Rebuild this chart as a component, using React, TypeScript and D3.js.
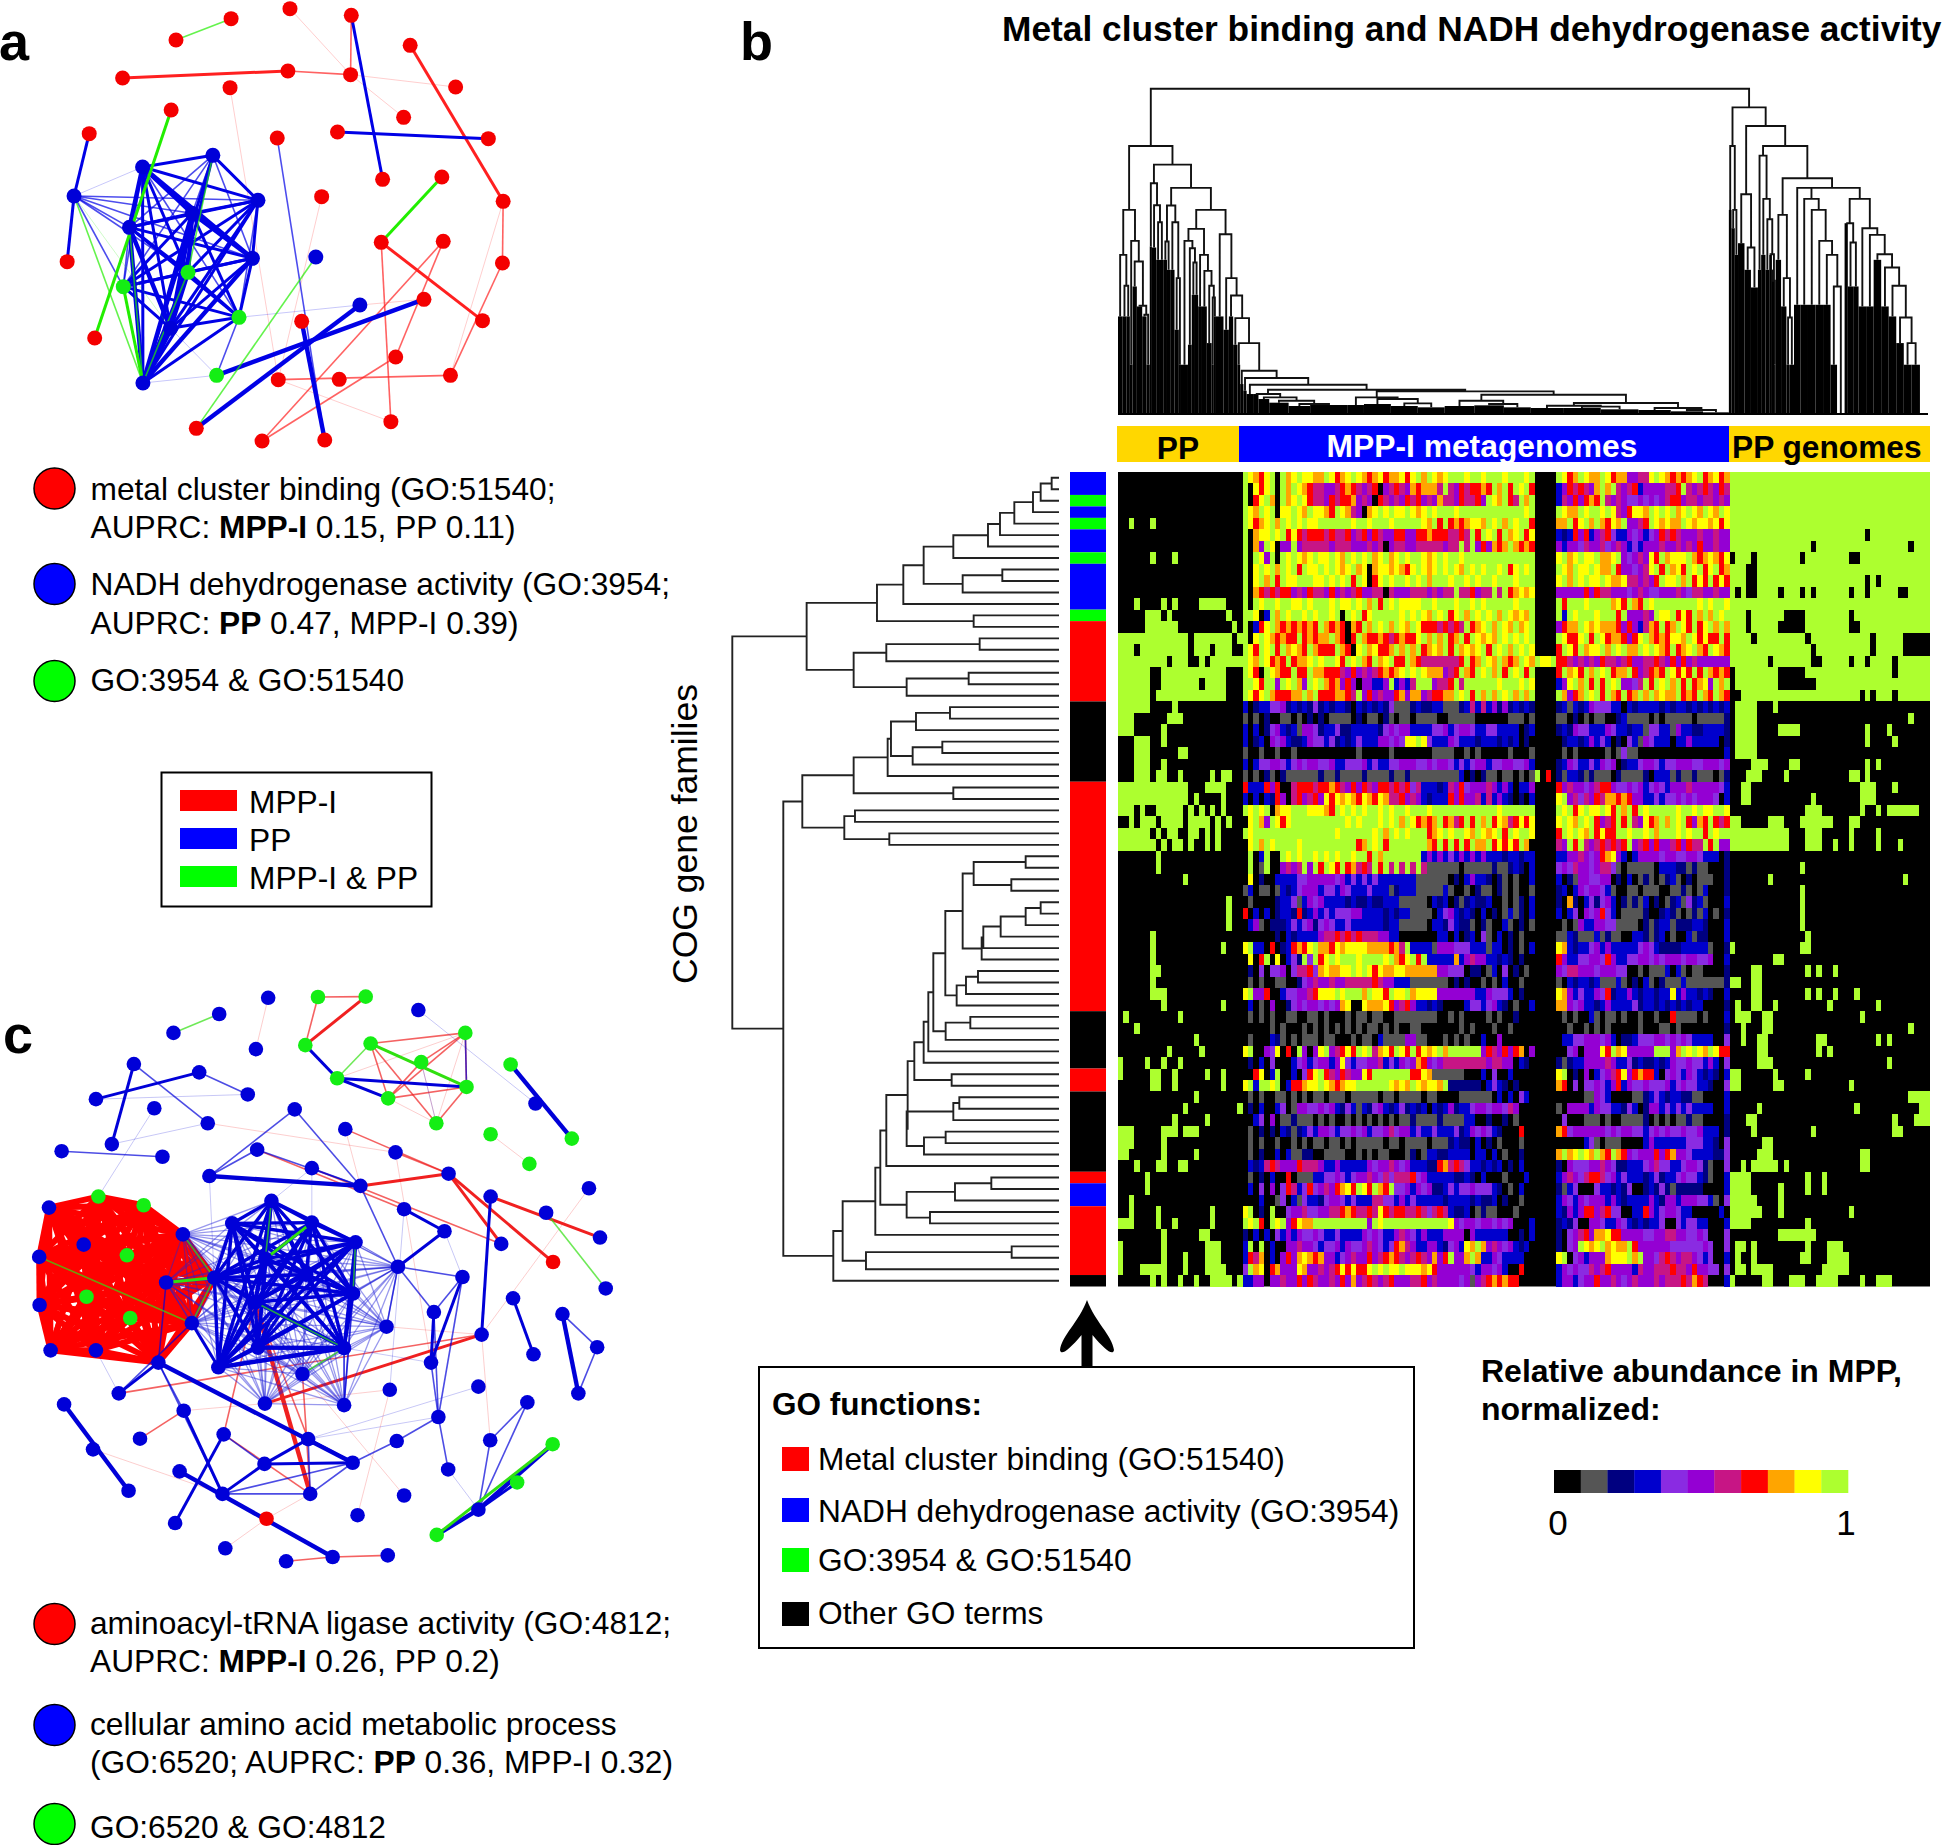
import React from "react";
import * as d3 from "d3";

const width = 1944;
const height = 1845;
const font = "'Liberation Sans', Arial, sans-serif";

// abundance levels, 0 = black ... a = top of the scale
const levelKeys = "0123456789a".split("");
const levelColors = ["#000000", "#555555", "#000080", "#0000cd", "#8a2be2", "#9400d3", "#c71585", "#ff0000", "#ffa500", "#ffff00", "#adff2f"];
const goColors: any = { R: "#ff0000", B: "#0000ff", G: "#00ff00", K: "#000000" };

// GO strip beside the heatmap, [colour, rows]
const goStrip: any[] = [["B", 2], ["G", 1], ["B", 1], ["G", 1], ["B", 2], ["G", 1], ["B", 4], ["G", 1], ["R", 7], ["K", 7], ["R", 20], ["K", 5], ["R", 2], ["K", 7], ["R", 1], ["B", 2], ["R", 6], ["K", 1]];

// heatmap, one string per COG row, split by sample group
const ppLeft = [
  "00000000000000000000000", "00000000000000000000000", "00000000000000000000000", "00000000000000000000000",
  "00a000a0000000000000000", "00000000000000000000000", "00000000000000000000000", "000000a000a000000000000",
  "00000000000000000000000", "00000000000000000000000", "00000000000000000000000", "000a0000a0a0000aaaaa000",
  "00000aaa0a0000000000a00", "00000aaaaaa0000000000a0", "aaaaaaaaaaaaa0aaaaaaa0a", "aaa0aaaaaaaaa0aaa0aaa00",
  "aaaaaaaaa0aaa00a0aaaaaa", "aaaaaa00aaaaaaaaaaaa000", "aaaaaa00aaaaaaa0aaaa000", "aaaaaa0aaaaaaaaaaaaa000",
  "aaaaaa0000a000000000000", "aaa000000aaa00000000000", "aaa00000a00000000000000", "000aaa00a00000000000000",
  "000aaa00000aa0000000000", "000aaa00a00000000000000", "000aaa0aa00a00000a0aa00", "aaaaaaaaaaaaa000aaaa000",
  "aaaaaaaaaaaaa0a0000a000", "aaa0a00aaaaa0a0a0a0a000", "00a0aaa0aaaa0aaaa0a0a00", "aaaaaa0a0aa00aa0a0a0000",
  "aaaaaaa0a0aa0a00a0a0000", "0000000a000000000000000", "0000000a000000000000000", "000000000000a0000000000",
  "00000000000000000000000", "00000000000000000000a00", "00000000000000000000a00", "00000000000000000000a00",
  "000000a0000000000000000", "000000a000000000000a000", "000000a0000000000000000", "000000aa000000000000000",
  "000000a0000000000000000", "000000aaa00000000000000", "00000000a0000000000a000", "0a000000000a00000000000",
  "000a0000000000000000000", "00000000000000a00000000", "000000000a00000a0000000", "a0000a00a00a00000000000",
  "a00000aa00a00000a00a000", "000000aa00a00000000a000", "00000000000000a00000000", "000000000000a000000000a",
  "0000000000a00000a000000", "aaa00000aaa0aaa00000000", "aaa00000a00000000000000", "aa000000a00000a00000000",
  "000a000aa00aa0000000000", "00000a00000000000000000", "00000a00000000000000000", "00a00000000000000000000",
  "00a0000a000000000a00000", "aaa0000a00a000000a00000", "00000000a000000aa000000", "a0000000a0000000aaa0000",
  "a0000000a000a000aaa0000", "a000aaaaa000a000aaaa000", "000000a0a00a00a00aaaa0a"
];

const mppLeft = [
  "a9879a0a89a9988a9789a98789788979a8a989aaa9aa9aaa9aaa9a", "a0979a0a8a987665567876567056765878886a65767787a8a7a9a7",
  "a079a80a89a9766576778565076565767565866576675a98a76a8a", "a98a9a099a98a9987a9865089a9a99a989a9aaa9aaaaaaaaaaaa9a",
  "a9789a8a9a9a99aaaaaa9aa9aaa9aaaaa98a7a7878998a9a8a9aa7", "a0899a9a7976777676675675765577557787776676a7a9a7a89a79",
  "a085a9055a566666566655565605665566666566a6a575878a8787", "a0a95a0a9a989a99a98a9a9a89a89a9aa989a9aa9aaaaaaaaaaaaa",
  "a09a9a8a9a7a99a9a989a89089989879a989a9a98a9a9aa9a79a9a", "a09a8a7a99aaa99a9a9a7a9079a9aa9a9a8aaa9aa9a9aa9aaa9aaa",
  "a08767677565766575656755660655566656566a667566a6a78989", "a0a9aa9aa99a9aaa9a99a9a8a7a9a9999aa9aaa9aa9a9aaaaa9aaa",
  "aa903a8a9aa9a9aa9a0a9a79aaaaa9a9a98a9a79a8a9a9a8a9898a", "a0379a87878787a8787087a8a9a8a98a977767676a789a8a98a89a",
  "a09a987877a78788a8707a87787678779a8a8a78a7a9898a9a9a9a", "a97a9a7a8987a8777a8709a89778a8a8a7898a7a8989a7a9a8a9a9",
  "a98a9787a7889a9aa97a9a87a89a77a8766666667a78a98a878a98", "a970a9877a77a88777657565678789a9a9888567a87a9a8a7a9a7a",
  "aa97aa5a9a85a9a878575055335a3536aaa5667a6aaaaaa9aaa9a9", "a979a877788a8a7778876a57565578588567788a9a7a8a8a9a8a8a",
  "302334452323242323320323232411123223311123636352523232", "101020011010202011110201102101101111001111100000011101",
  "303024532315542334223333324545533334453455433443333023", "302305453223544342323433355454 9a94333543332333232302".replace(" ", "9"),
  "100100100100000000000100000100000001111001010000010001", "303445543454554453344453433445554454554343455344554453",
  "101021021111112112111121111211211111111130202110110101", "733375700677767787657576577676746333236574555653530335",
  "303032750675675979898798798667565323337575563635320203", "a9a9a0899aaa99987a9a9a9aa9a9aa9aaa9aaaaaaaaaaaa9aaaaaa",
  "09a85a979aaaaaaaaaa9a9aaa9a9a8a97878a7867a7a8a79867979", "a9aaaaaaaaaaaaaaa9aaaaaa9a8a9a9aaa789a9aa98a989a7a9aa9",
  "09a8a9aaaa9aaaaaaaaaa78a9a7aaaaaaa87a7a7a7a88a79797a80", "0a03a00a9a9aa9a9a9aa9aa7a8aaaaaaa353534353535333233233",
  "0a01a005656a5a7a97a78676a7a6a6a6a611111101111121123203", "090200333344555554534343433333331111110203533202101003",
  "130110132345553443543334333123331111131001021102101001",
  "010000233413545333323223223331111103230212322300101203", "703030233272353434445533332323311110345323203020131203",
  "035102223434524543343333332331111103324322102100310201", "000000203233335667676766655330000000330302304103020100",
  "9a33070237 79a88798999988887 6a33331555444333133020103".replace(/ /g, "8"), "0907a090342a4a79a9aaa9aaaa9a879a7a3333383565533232020",
  "020404450466748988 9a9a979889988888855444022013040201".replace(" ", "9"), "010100110024565565566666765533311111110202001010300100",
  "9a557003445567999a9aaa8a997a99a8999955555553354443020", "030105002454554545890098889756753323200003443453201003",
  "010101001100110100010110110011111111001010000101002000", "000001010001010101010101101010011000000010100010010000",
  "010003210101110110001011031111551100010101003005000000", "9a00549070a5059a56797a9a6897a97a7 89a8aaaaaa5765757805".replace(" ", "9"),
  "020304000345345535943445563435458754566666666566550320", "00790 3a003 0479a765765597aaaaaaa7798111111000304003000".replace(/ /g, ""),
  "9a3aa9a0377899a987899aaaaaa9898a98998a222222034320200", "010100110101011011101111101101111011000011111103030430".slice(0, 54),
  "020300340155445453243132453234232303235233455455465000", "003405011211101010010101010101121111211113300200201000",
  "010202032123435543445453445645534334333423545432000700", "010100100101011011010111110110111101112322030201000100",
  "010200303112200111100101011000120133223333033030100200", "032367655576665335333335455654533322786764332323020300",
  "010203007011133445434556546466674533333223203000100030", "030405047634745657897a97a87a44535452234344544432010300",
  "000300140314332455434333664435343333323333232230200100", "9a020a00455644556678766769767766764676322301211000100",
  "a9a70a9a57988aaaaaaaaaa5a9aaaaaaaaaaaa954554554545000300", "203030435354454334333354543356543533355550533333300203",
  "3a0a030055655434453544565434786533553245 98a8565453230".replace(" ", "3"), "376803057589878553456557567876567658 7a558a8335433330".replace(" ", "5"),
  "4a8907855598556567979779a9a99a99989755555543554530070", "335505565575765565758567656755566756555545156787877000"
];

const mppGap = ["a99a", "a070"];
const mppGapRows = [16, 26];

const mppRight = [
  "a978a988a978855669a9878789a78978", "35767658a8a656735555667a65676576", "36575787a65654454545677566566565",
  "a988a9aa9a96579 8a9a9a89a98a98a9".replace(" ", "9"), "88a79a8a8798a5567a98988a98998979", "32375735674335453457676555655655",
  "53554655645653435556556565755655", "9a89a99a889a5456597a8999a8789879", "a98a99a988a7554569a7a897a9a79a78",
  "9a8a9a99a9889665657a99a8a797a797", "55555757665554565445556546655655", "a7aaa9aaaa897a87a9aaaaaaaa9a9aa9",
  "a3a9aaa9aaa7a55565a99a797a8a8a9a", "5788a98988875753687a78a97a79a8a8", "a9779a7a97887579a8787998a97977a7",
  "7a97a899a8a9a88a9a987a789a87a987", "77656565766567556676575756555555", "7a897a8a9a788a756787a9797a7a8787",
  "359a8a7a7a9a5546a7a9a8a7a7895a8a", "a8578a9a7a87a78a8a8988a787a87a87", "23132354443303233332323323232323",
  "11020101100231111010111110111112", "23254433354332331443315332233332", "02332353430204315433303353333302",
  "01010000010141100000000000000003", "23543343545023345543445554455545", "21332121110211112033312112111012",
  "75655456775445453454355565555543", "9a564657688787553343445454555403", "a9a79a99a97a8a7a9aaaaa9aa9a99aa9",
  "9a98a9a7567a7a65978a8a9a7587a767", "7a9a98a7977aa9aa9a8aaa9a9aa7a9aa", "65a7a65676767a5675755675766a7a55",
  "33556545789530355554554455433302", "45465545664101111103332212110002", "30215544550203012101231020111002",
  "23035455431001101110011210130002", "20820342453021213020123142310003", "30340545743011112002321012130102",
  "01015335544111102123312223320003", "11321113121100332123010031220003", "98323345353333345432222333331002",
  "75334455475334455454555455445003", "54665554555440010111303101100002", "10323323111310203102111311111112",
  "98534335472335323323393533232003", "88545332353333423323232323300002", "01010031011010010010071111010003",
  "00100101010000010001101000000002", "03344555453022344455454543333004", "0045055597a8955555aaa58a9a98a977",
  "21233555565334232232354454435304", "9a020503456795787730454354323203", "87040445435735445444534544332004",
  "00000115430000112343233221100003", "10555535443324302553434343333003", "04000111010011112010101121100002",
  "87455555545455443454544544533302", "00000341011100003533333344433204", "8a89a98a87a875455575785543333224",
  "20544455654223334564433455421004", "35654677645343332342334544321003", "21340004332324002324212222200003",
  "35435455535323333532553555443104", "32535775674400337534554330000 3".replace(" ", "0"), "23240055433543232334004344330003",
  "20456758897755554455665544540004", "2045a989a8988a755555544444454004", "9a045355589 9a8a5546765665434003".replace(" ", "9"),
  "35454465675555365566676657554404", "35534557556545655565666768760003"
];

const ppRight = [
  "aaaaaaaaaaaaaaaaaaaaaaaaaaaaaaaaaaaaa", "aaaaaaaaaaaaaaaaaaaaaaaaaaaaaaaaaaaaa", "aaaaaaaaaaaaaaaaaaaaaaaaaaaaaaaaaaaaa",
  "aaaaaaaaaaaaaaaaaaaaaaaaaaaaaaaaaaaaa", "aaaaaaaaaaaaaaaaaaaaaaaaaaaaaaaaaaaaa", "aaaaaaaaaaaaaaaaaaaaaaaaa0aaaaaaaaaaa",
  "aaaaaaaaaaaaaaa0aaaaaaaaaaaaaaaaa0aaa", "0aaa0aaaaaaaa0aaaaaaaa00aaaaaaaaaaaaa", "aaa00aaaaaaaaaaaaaaaaaaaaaaaaaaaaaaaa",
  "aaa00aaaaaaaaaaaaaaaaaaaa0a0aaaaaaaaa", "a0a00aaaa0aaa0a0aaaaaa0aa0aaaaa00aaaa", "aaaaaaaaaaaaaaaaaaaaaaaaaaaaaaaaaaaaa",
  "aaa0aaaaaa0000aaaaaaaa0aaaaaaaaaaaaaa", "aaa0aaaaa00000aaaaaaaa00aaaaaaaaaaaaa", "aaaa0aaaaaaaaa0aaaaaaaaaaa0aaaaa00000",
  "aaaaaaaaaaaaaaa0aaaaaaaaaa0aaaaa00000", "aaaaaaa0aaaaaaa00aaaaa0aa0aaaa0aaaaaa", "0aaaaaaaa00000aaaaaaaaaaaaaaaa0aaaaaa",
  "0aaaaaaaa0000000aaaaaaaaaaaaaaaaaaaaa", "00aaaaaaaaaaaaaaaaaaaaaa0a0aaa0aaaaaa", "0aaaa000a0000000000000000000000000000",
  "0aaaa0000000000000000000000000000a000", "0aaaa0000aaaa000000000000a000a0000000", "0aaaa00000000000000000000a0000a000000",
  "0aaaa00000000000000000000000000000000", "0000aaa0000aa000000000000a0a000000000", "000aaa0000a00000000000aa0a00000000000",
  "00aa00000000000000000000aaa000a000000", "00aa00000000000a00000000aaa0000000000", "00000000000000aaa0000000a00a0aaaaaa00",
  "aa00000aaa000aaaaaa000aa0000000000000", "aaaaaaaaaaa000aaa00000a0000a000000000", "aaaaaaaaaaa000aaa00a00a0000a000a00000",
  "0000000000000000000000000000000000000", "0000000000000a00000000000000000000000", "0000000a000000000000000000000000a0000",
  "0000000000000a00000000000000000000000", "0000000000000a00000000000000000000000", "0000000000000a00000000000000000000000",
  "0000000000000a00000000000000000000000", "00000000000000a0000000000000000000000", "a000000000000aa0000000000000000000000",
  "00000000aa000000000000000000000000000", "0000aa00000000a0a00a00000000000000000", "aa00aa0000000000000000000000000000000",
  "0000aa00000000a0a00a000a0000000000000", "0a00aa00a000000000a00000000a000000000", "0aaa00aa0000000000000000a000000000000",
  "00a000aa0000000000000000000000000a000", "00a00aa000000000aa000000000a0a0000000", "00000aa000000000a0a000000000000000000",
  "00000aaa000000000000000000000a0000000", "aa000000a00000a0000000000000000000000", "aa000000aa000000000000a00000000000000",
  "000000000000000000000000000000000aaaa", "00000a00000000000000000a00000000000aa", "000aa0000000000000000000000000a000aaa",
  "0000a0000000000a00000000000000aa00000", "000000aa00000000000000000000000000000", "00000aaa0000000000000000aa00000000000",
  "00a0aaaaa0a0000000000000aa00000000000", "aaaa0000000000a00a0000000000000000000", "aaaa00000a0000a00a0000000000000000000",
  "aaaaa0000a000000000000000000000000000", "aaaaaa000a000000000000a00000000000000", "aaaa0000000000a0000000000000000000000",
  "000000000aaaaaaa000000000000000000000", "0aa0a000000000a000aaa0000000000000000", "0a00a00000000aa000aaaa000000000000000",
  "0aa0aaaa000000000aaaaa000000000000000", "a00000aa000aaa00aaaa0000a00aaa0000000"
];

// top dendrogram: [height, left, right] is a merge, [w, h] a solid block of samples
const midLow: any = [73,
  [60, [10, 60], [50, [20, 45], [40, [36, 34], [30, [40, 24], [70, 27]]]]],
  [68,
    [50, [30, 27], [45, [50, 30], [32, [50, 24], [50, 20]]]],
    [58,
      [40, [55, 24], [30, [55, 26], [50, 20]]],
      [33, [25, [60, 18], [22, [70, 18], [70, 14]]], [18, [60, 12], [12, [60, 8], [48, 5]]]]
    ]
  ]
];
const midChain: any = [288, [8, 208], [213, [5, 148], [130, [6, 90], [108, [6, 70], [88, [12, 60], midLow]]]]];
const topLeft: any = [805,
  [613,
    [478, [8, 293], [385, [8, 293], [6, 293]]],
    [520, [5, 148], [458, [8, 383], [325, [10, 323], [298, [8, 293], [6, 148]]]]]
  ],
  [749,
    [693, [4, 503], [627, [8, 500], [576, [7, 463], [7, 463]]]],
    [679,
      [626, [518, [6, 463], [6, 433]], [576, [8, 433], [408, [8, 253], [4, 148]]]],
      [613,
        [556,
          [520, [13, 148], [498, [7, 208], [455, [6, 358], [6, 358]]]],
          [478, [7, 323], [430, [9, 323], [385, [9, 213], [350, [4, 148], [4, 293]]]]]
        ],
        [540, [14, 293], [408, [10, 253], [356, [8, 293], midChain]]]
      ]
    ]
  ]
];
const topRight: any = [921,
  [805, [5, 613], [613, [6, 558], [6, 478]]],
  [865,
    [660, [12, 513], [500, [12, 433], [13, 380]]],
    [805,
      [776, [6, 433], [646, [8, 478], [585, [7, 433], [480, [5, 478], [400, [4, 433], [3, 148]]]]]],
      [708,
        [598, [10, 463], [408, [10, 323], [290, [6, 148], [8, 148]]]],
        [679,
          [679, [12, 328], [646, [14, 328], [613, [14, 328], [520, [14, 328], [478, [14, 328], [383, [12, 148], [14, 0]]]]]]],
          [646,
            [573, [6, 573], [515, [10, 383], [10, 383]]],
            [558, [14, 323], [538, [14, 323], [480, [14, 463], [440, [14, 323], [385, [14, 293], [290, [14, 213], [213, [14, 148], [16, 148]]]]]]]]
          ]
        ]
      ]
    ]
  ]
];
const topTree: any = [977, topLeft, topRight];

// left dendrogram: [height, upper, lower], 0 is a COG row
const cogTree: any = [980,
  [757,
    [546,
      [467,
        [406,
          [317, [213, [177, [134, [78, [55, [22, 0, 0], 0], 0], 0], 0], 0], 0],
          [289, [170, 0, 0], 0]
        ],
        0
      ],
      [256, 0, 0]
    ],
    [616, [518, [238, 0, 0], 0], [457, [271, 0, 0], 0]]
  ],
  [827,
    [770,
      [616, [514, [504, [429, [327, 0, 0], 0], [439, [350, 0, 0], 0]], 0], [317, 0, 0]],
      [644, [612, 0, 0], [509, 0, 0]]
    ],
    [677,
      [649,
        [551,
          [536,
            [518,
              [454,
                [434,
                  [406,
                    [392,
                      [377,
                        [341,
                          [289,
                            [256, [100, 0, 0], [143, 0, 0]],
                            [232, [227, [175, [100, [55, 0, 0], 0], 0], 0], 0]
                          ],
                          [307, [279, [243, 0, 0], 0], 0]
                        ],
                        [340, [266, 0, 0], 0]
                      ],
                      0
                    ],
                    0
                  ],
                  [322, 0, 0]
                ],
                [457, [317, [299, 0, 0], 0], [405, [340, 0, 0], 0]]
              ],
              0
            ],
            [457, [312, [203, 0, 0], 0], [387, 0, 0]]
          ],
          0
        ],
        [579, [142, 0, 0], 0]
      ],
      0
    ]
  ]
];

// network a: layout position, module, then edges [from, to, weight]
const aNodeX = [511, 671, 842, 1020, 1191, 356, 836, 1018, 1323, 668, 1172, 497, 259, 805, 980, 1418, 1111, 1283, 618, 414, 215, 749, 1461, 934, 558, 376, 1107, 1287, 195, 733, 917, 1459, 546, 358, 1045, 1231, 694, 876, 1401, 495, 275, 1149, 629, 808, 985, 1308, 415, 1135, 570, 761, 943];
const aNodeY = [120, 56, 26, 46, 136, 234, 213, 224, 261, 263, 352, 330, 401, 414, 396, 416, 538, 531, 466, 501, 588, 601, 604, 590, 640, 682, 727, 724, 785, 775, 771, 789, 817, 860, 915, 898, 952, 964, 962, 985, 1014, 1071, 1126, 1139, 1138, 1126, 1149, 1265, 1285, 1323, 1320];
const aNodeKind = "RRRRRRRRRRRRRRRRRRBBBBRRBBRRRBBRGGBRGRRBRRGRRRBRRRR";
const aRed = [[2, 7, 0], [3, 7, 1], [5, 6, 2], [6, 7, 1], [7, 8, 0], [7, 10, 0], [4, 22, 2], [9, 43, 0], [23, 43, 0], [22, 31, 1], [22, 45, 0], [31, 45, 1], [26, 38, 2], [26, 47, 1], [27, 49, 1], [27, 41, 1], [41, 49, 1], [43, 45, 1], [43, 47, 0], [34, 35, 0]];
const aBlue = [[3, 16, 2], [14, 15, 2], [12, 20, 2], [20, 28, 2], [13, 50, 1], [37, 50, 3], [34, 48, 3], [42, 35, 3], [36, 34, 0], [46, 42, 0], [36, 42, 1], [39, 42, 0], [20, 19, 0],
  [18, 19, 2], [18, 21, 2], [18, 24, 1], [18, 25, 1], [18, 29, 1], [18, 39, 2], [18, 46, 2], [18, 33, 1], [19, 21, 2], [19, 24, 3], [19, 25, 3], [19, 29, 3], [19, 32, 2], [19, 33, 1], [19, 39, 2], [19, 36, 1], [19, 46, 2],
  [20, 21, 1], [20, 24, 1], [20, 25, 1], [20, 29, 1], [20, 33, 1], [20, 32, 1], [21, 24, 2], [21, 25, 2], [21, 29, 2], [21, 32, 2], [21, 33, 2], [21, 36, 1], [21, 39, 2], [21, 46, 2],
  [24, 25, 2], [24, 29, 3], [24, 32, 3], [24, 33, 2], [24, 36, 2], [24, 39, 3], [24, 46, 3], [25, 29, 2], [25, 32, 2], [25, 33, 1], [25, 36, 2], [25, 39, 3], [25, 46, 3],
  [29, 32, 2], [29, 33, 2], [29, 36, 2], [29, 39, 2], [29, 46, 3], [32, 33, 2], [32, 36, 2], [32, 39, 3], [32, 46, 3], [33, 36, 2], [33, 39, 2], [33, 46, 1], [36, 39, 2], [36, 46, 2], [39, 46, 4]];
const aGreen = [[0, 1, 1], [11, 40, 2], [17, 26, 2], [30, 48, 1], [18, 32, 1], [20, 46, 1], [20, 39, 0], [33, 46, 2], [25, 46, 1], [32, 46, 1]];

// network c
const cNodeX = [425, 537, 657, 627, 779, 896, 748, 1025, 908, 1140, 1032, 826, 1143, 951, 1069, 1251, 1312, 1401, 1202, 1297, 328, 488, 235, 607, 378, 509, 274, 151, 398, 722, 846, 969, 630, 764, 513, 883, 1099, 1202, 1443, 1338, 1470, 990, 1089, 1228, 1355, 1484, 665, 569, 764, 871, 975, 1133, 1257, 1378, 1463, 1417, 1307, 1063, 1180, 120, 241, 352, 448, 205, 311, 96, 407, 212, 97, 319, 470, 124, 235, 388, 525, 650, 750, 865, 625, 947, 843, 632, 535, 741, 291, 1056, 649, 843, 955, 1172, 157, 450, 343, 1074, 1292, 228, 548, 755, 972, 1201, 1354, 648, 864, 440, 1098, 1267, 315, 545, 760, 990, 653, 1172, 876, 429, 1070, 552, 701, 815, 950];
const cNodeY = [157, 109, 68, 198, 66, 65, 188, 99, 184, 157, 231, 272, 294, 323, 386, 237, 336, 425, 414, 489, 236, 257, 325, 313, 348, 386, 439, 457, 471, 351, 401, 460, 453, 500, 520, 545, 514, 572, 551, 613, 676, 604, 660, 692, 738, 805, 583, 640, 638, 688, 750, 776, 830, 870, 954, 1071, 972, 865, 922, 600, 572, 594, 668, 694, 721, 725, 790, 826, 847, 880, 893, 962, 962, 993, 778, 730, 770, 818, 840, 902, 956, 955, 1005, 1022, 1071, 993, 1097, 1101, 1062, 1054, 1099, 1115, 1186, 1131, 1094, 1213, 1175, 1187, 1192, 1190, 1200, 1250, 1247, 1269, 1264, 1297, 1318, 1326, 1326, 1330, 1389, 1366, 1380, 1400, 1430, 1464, 1497, 1486, 1482];
const cGreenIds = [4, 5, 6, 8, 9, 10, 11, 12, 13, 14, 15, 17, 18, 19, 60, 61, 64, 67, 69, 100, 105, 114];
const cRedIds = [44, 110];
const cRedClique = [59, 60, 61, 62, 63, 64, 65, 66, 67, 68, 69, 70, 71, 72, 73, 74];
const cBlueCore = [46, 47, 48, 49, 74, 75, 76, 77, 78, 80, 81, 82];
const cBlueOuter = [70, 79, 62, 66, 83, 50, 86, 87];
const cRed = [[4, 5, 1], [4, 6, 1], [5, 6, 2], [8, 9, 1], [8, 13, 1], [8, 14, 1], [8, 12, 1], [9, 13, 1], [9, 14, 0], [9, 11, 0], [9, 10, 1], [9, 12, 1], [10, 13, 1], [10, 14, 0], [11, 13, 1], [12, 13, 1], [12, 14, 1], [13, 14, 0],
  [2, 3, 0], [25, 31, 0], [18, 19, 0], [30, 36, 1], [31, 36, 1], [35, 36, 2], [32, 41, 1], [33, 43, 1], [30, 35, 0], [36, 44, 2], [36, 43, 2], [37, 40, 2], [38, 58, 0], [84, 58, 1], [58, 86, 2], [91, 92, 1], [91, 86, 0], [86, 88, 0], [96, 108, 1], [78, 108, 3], [78, 96, 1], [78, 97, 1], [83, 108, 1], [116, 117, 1], [117, 118, 1], [88, 112, 0], [83, 109, 0], [110, 115, 0], [110, 108, 0], [95, 107, 0], [58, 99, 0], [31, 85, 0], [79, 58, 0]];
const cBlue = [[6, 11, 2], [11, 12, 2], [11, 13, 2], [9, 12, 1], [10, 14, 0], [20, 25, 1], [20, 26, 2], [21, 22, 2], [21, 23, 1], [22, 23, 0], [27, 28, 1], [24, 60, 0], [26, 25, 0], [7, 16, 0], [15, 17, 3], [29, 34, 1], [29, 35, 1], [32, 34, 1], [34, 35, 3], [37, 58, 2], [41, 42, 2], [42, 50, 2], [35, 50, 1], [33, 35, 1], [32, 35, 1], [33, 46, 0], [50, 51, 1], [50, 57, 1], [50, 79, 1], [50, 49, 0], [50, 77, 0], [50, 76, 0], [51, 85, 2], [51, 57, 1], [57, 85, 2], [85, 93, 1], [57, 93, 1], [51, 93, 1], [42, 51, 0], [41, 88, 0], [52, 56, 2], [53, 55, 3], [53, 54, 1], [54, 55, 1], [73, 84, 2], [72, 84, 0], [73, 102, 3], [73, 91, 1], [73, 107, 1], [96, 113, 2], [90, 106, 3], [101, 97, 2], [101, 102, 2], [101, 107, 2], [97, 102, 2], [107, 102, 1], [107, 108, 1], [97, 108, 1], [108, 102, 1], [96, 101, 1], [91, 107, 2], [103, 117, 3], [99, 94, 1], [99, 111, 1], [94, 111, 1], [100, 111, 3], [111, 114, 3], [105, 111, 2], [98, 102, 1], [98, 93, 1], [93, 97, 0], [89, 97, 0], [104, 93, 1], [104, 111, 0], [77, 87, 1], [80, 87, 1], [34, 82, 0], [33, 48, 0], [85, 80, 0], [73, 66, 1], [84, 70, 1], [70, 82, 2], [81, 80, 3], [82, 80, 3]];
const cGreen = [[8, 11, 1], [8, 12, 2], [0, 1, 1], [39, 45, 1], [100, 114, 2], [65, 70, 1], [62, 74, 1], [66, 74, 2], [70, 74, 1], [48, 75, 2], [46, 75, 1], [49, 77, 1], [78, 80, 1], [80, 83, 1]];

const legendA = [
  { kind: "R", lines: [[["metal cluster binding (GO:51540;", false]], [["AUPRC: ", false], ["MPP-I", true], [" 0.15, PP 0.11)", false]]] },
  { kind: "B", lines: [[["NADH dehydrogenase activity (GO:3954;", false]], [["AUPRC: ", false], ["PP", true], [" 0.47, MPP-I 0.39)", false]]] },
  { kind: "G", lines: [[["GO:3954 & GO:51540", false]]] }
];
const legendC = [
  { kind: "R", lines: [[["aminoacyl-tRNA ligase activity (GO:4812;", false]], [["AUPRC: ", false], ["MPP-I", true], [" 0.26, PP 0.2)", false]]] },
  { kind: "B", lines: [[["cellular amino acid metabolic process", false]], [["(GO:6520; AUPRC: ", false], ["PP", true], [" 0.36, MPP-I 0.32)", false]]] },
  { kind: "G", lines: [[["GO:6520 & GO:4812", false]]] }
];
const edgeKinds = [["MPP-I", "#ff0000"], ["PP", "#0000ff"], ["MPP-I & PP", "#00ff00"]];
const goLegend = [["Metal cluster binding (GO:51540)", "R"], ["NADH dehydrogenase activity (GO:3954)", "B"], ["GO:3954 & GO:51540", "G"], ["Other GO terms", "K"]];

const levelScale = d3.scaleOrdinal<string, string>().domain(levelKeys).range(levelColors);
const rowScale = d3.scaleBand<number>().domain(d3.range(71)).range([472, 1286.5]);
const colScale = d3.scaleBand<number>().domain(d3.range(150)).range([1118, 1930]);
const edgeWidth = d3.scaleLinear().domain([0, 1, 2, 3, 4]).range([1, 1.6, 3, 4.4, 6]);
const edgeOpacity = d3.scaleLinear().domain([0, 1, 2]).range([0.22, 0.7, 1]).clamp(true);
const nodeFill: any = { R: "#f40000", B: "#0000d8", G: "#14ee14" };

function cogLayout() {
  const x = d3.scaleLinear().domain([0, 980]).range([1059, 732.3]);
  const path = d3.path();
  let row = 0;
  const walk = (n: any): any => {
    if (n === 0) {
      const y = rowScale(row)! + rowScale.bandwidth() / 2;
      row += 1;
      return { x: x(0), y };
    }
    const a = walk(n[1]);
    const b = walk(n[2]);
    const nx = x(n[0]);
    path.moveTo(a.x, a.y);
    path.lineTo(nx, a.y);
    path.lineTo(nx, b.y);
    path.lineTo(b.x, b.y);
    return { x: nx, y: (a.y + b.y) / 2 };
  };
  walk(cogTree);
  return path.toString();
}

function topLayout() {
  const x = d3.scaleLinear().domain([33, 1530]).range([1118, 1923.7]);
  const y = d3.scaleLinear().domain([0, 977]).range([414, 88.7]);
  const path = d3.path();
  const blocks: any[] = [];
  let cursor = 33;
  const walk = (n: any): any => {
    if (n.length === 2) {
      const x0 = cursor;
      cursor += n[0];
      blocks.push({ x: x(x0), w: x(cursor) - x(x0), y: y(n[1]), h: y(0) - y(n[1]) });
      return { zx: (x0 + cursor) / 2, h: n[1] };
    }
    const a = walk(n[1]);
    const b = walk(n[2]);
    path.moveTo(x(a.zx), y(a.h));
    path.lineTo(x(a.zx), y(n[0]));
    path.lineTo(x(b.zx), y(n[0]));
    path.lineTo(x(b.zx), y(b.h));
    return { zx: (a.zx + b.zx) / 2, h: n[0] };
  };
  walk(topTree);
  return { d: path.toString(), blocks, y0: y(0) };
}

function Network({ nx, ny, kind, edges, sx, sy, r }: any) {
  return (
    <g>
      {edges.map((e: any, i: number) => (
        <line key={i} x1={sx(nx[e[0]])} y1={sy(ny[e[0]])} x2={sx(nx[e[1]])} y2={sy(ny[e[1]])} stroke={e[3]} strokeWidth={edgeWidth(e[2])} strokeOpacity={edgeOpacity(e[2])} />
      ))}
      {nx.map((v: number, i: number) => (
        <circle key={i} cx={sx(v)} cy={sy(ny[i])} r={r} fill={nodeFill[kind(i)]} />
      ))}
    </g>
  );
}

function Legend({ items, x, circleYs, baselines }: any) {
  return (
    <g fontSize={31.7} fontFamily={font}>
      {items.map((it: any, i: number) => (
        <g key={i}>
          <circle cx={54.5} cy={circleYs[i]} r={20.5} fill={it.kind === "R" ? "#ff0000" : it.kind === "B" ? "#0000ff" : "#00ff00"} stroke="#000" strokeWidth={1.5} />
          {it.lines.map((ln: any, j: number) => (
            <text key={j} x={x} y={baselines[i][j]}>
              {ln.map((s: any, k: number) => (
                <tspan key={k} fontWeight={s[1] ? "bold" : "normal"}>{s[0]}</tspan>
              ))}
            </text>
          ))}
        </g>
      ))}
    </g>
  );
}

const withColor = (list: any[], color: string) => list.map(e => [e[0], e[1], e[2], color]);

export default function App() {
  const top = topLayout();
  const stripRows: any[] = [];
  goStrip.reduce((start: number, s: any) => {
    stripRows.push({ kind: s[0], start, n: s[1] });
    return start + s[1];
  }, 0);

  const blocks = [
    { rows: ppLeft, offset: 0 },
    { rows: mppLeft, offset: 23 },
    { rows: mppRight, offset: 81 },
    { rows: ppRight, offset: 113 }
  ];

  const aSx = d3.scaleLinear().domain([0, 1568]).range([0, 540]);
  const aSy = d3.scaleLinear().domain([0, 1380]).range([0, 460]);
  const cSx = d3.scaleLinear().domain([0, 1568]).range([0, 640]);
  const cSy = d3.scaleLinear().domain([0, 1519]).range([971, 1570]);

  const aEdges = [
    ...withColor(aRed, "#ff2020"),
    ...withColor(aBlue, "#0000e6").sort((p, q) => p[2] - q[2]),
    ...withColor(aGreen, "#22ee00")
  ];
  const cliqueEdges = (ids: number[], w: number, color: string) =>
    d3.cross(ids, ids).filter(p => p[0] < p[1]).map(p => [p[0], p[1], w, color]);
  const cEdges = [
    ...withColor(cRed, "#f02020"),
    ...cliqueEdges(cRedClique, 4, "#ff0000"),
    ...cliqueEdges(cBlueOuter, 0.5, "#2020d8"),
    ...d3.cross(cBlueOuter, cBlueCore).map(p => [p[0], p[1], 0.5, "#2020d8"]),
    ...withColor(cBlue, "#0000d8"),
    ...cliqueEdges(cBlueCore, 2.3, "#0000d8"),
    ...withColor(cGreen, "#30e010")
  ];

  const arrow = d3.path();
  arrow.moveTo(1087, 1300);
  arrow.bezierCurveTo(1095, 1322, 1112, 1335, 1114, 1350);
  arrow.bezierCurveTo(1113, 1356, 1105, 1350, 1092.5, 1335);
  arrow.lineTo(1092.5, 1367);
  arrow.lineTo(1081.5, 1367);
  arrow.lineTo(1081.5, 1335);
  arrow.bezierCurveTo(1069, 1350, 1061, 1356, 1060, 1350);
  arrow.bezierCurveTo(1062, 1335, 1079, 1322, 1087, 1300);
  arrow.closePath();

  const bandW = 294 / levelKeys.length;

  return (
    <svg width={width} height={height} style={{ position: "absolute", left: 0, top: 0, background: "#fff" }} fontFamily={font}>
      <text x={-1} y={60} fontSize={54} fontWeight="bold">a</text>
      <text x={740} y={60} fontSize={54} fontWeight="bold">b</text>
      <text x={3} y={1053} fontSize={54} fontWeight="bold">c</text>
      <text x={1002} y={41} fontSize={35.3} fontWeight="bold">Metal cluster binding and NADH dehydrogenase activity</text>

      <Network nx={aNodeX} ny={aNodeY} kind={(i: number) => aNodeKind[i]} edges={aEdges} sx={aSx} sy={aSy} r={7.5} />
      <Legend items={legendA} x={90.5} circleYs={[488.5, 584, 681]} baselines={[[500, 538], [595, 634], [691]]} />

      <rect x={161.5} y={772.5} width={270} height={134} fill="none" stroke="#000" strokeWidth={2} />
      {edgeKinds.map((k, i) => (
        <g key={k[0]}>
          <rect x={180} y={790 + i * 38} width={57} height={21} fill={k[1]} />
          <text x={249} y={813 + i * 38} fontSize={31.7}>{k[0]}</text>
        </g>
      ))}

      <Network
        nx={cNodeX}
        ny={cNodeY}
        kind={(i: number) => (cGreenIds.includes(i) ? "G" : cRedIds.includes(i) ? "R" : "B")}
        edges={cEdges}
        sx={cSx}
        sy={cSy}
        r={7.3}
      />
      <Legend items={legendC} x={90} circleYs={[1624, 1725, 1824]} baselines={[[1634, 1672], [1735, 1773], [1838]]} />

      {/* top dendrogram */}
      <g>
        {top.blocks.map((b, i) => (
          <rect key={i} x={b.x} y={b.y} width={b.w} height={b.h} fill="#000" />
        ))}
        <path d={top.d} fill="none" stroke="#111" strokeWidth={1.9} />
        <line x1={1118} x2={1928} y1={top.y0} y2={top.y0} stroke="#000" strokeWidth={2} />
      </g>

      {/* sample groups */}
      <rect x={1117} y={426} width={122} height={36} fill="#ffd700" />
      <rect x={1239} y={426} width={490} height={36} fill="#0000ff" />
      <rect x={1729} y={426} width={201} height={36} fill="#ffd700" />
      <text x={1178} y={459} fontSize={31.7} fontWeight="bold" textAnchor="middle">PP</text>
      <text x={1482} y={457} fontSize={31.8} fontWeight="bold" textAnchor="middle" fill="#fff">MPP-I metagenomes</text>
      <text x={1732} y={458} fontSize={31.7} fontWeight="bold">PP genomes</text>

      {/* left dendrogram and GO strip */}
      <path d={cogLayout()} fill="none" stroke="#222" strokeWidth={1.9} />
      <text transform="translate(697,834) rotate(-90)" fontSize={35.5} textAnchor="middle">COG gene families</text>
      {stripRows.map((s, i) => (
        <rect key={i} x={1070} y={rowScale(s.start)} width={36} height={rowScale.step() * s.n} fill={goColors[s.kind]} />
      ))}

      {/* heatmap */}
      <rect x={1118} y={472} width={812} height={814.5} fill="#000" />
      <g shapeRendering="crispEdges">
        {blocks.map((block, bi) =>
          block.rows.map((row, ri) =>
            row.split("").map((c, ci) =>
              c === "0" ? null : (
                <rect
                  key={`${bi}-${ri}-${ci}`}
                  x={colScale(block.offset + ci)}
                  y={rowScale(ri)}
                  width={colScale.bandwidth()}
                  height={rowScale.bandwidth()}
                  fill={levelScale(c)}
                />
              )
            )
          )
        )}
        {mppGap.map((row, gi) =>
          row.split("").map((c, ci) =>
            c === "0" ? null : (
              <rect key={`${gi}-${ci}`} x={colScale(77 + ci)} y={rowScale(mppGapRows[gi])} width={colScale.bandwidth()} height={rowScale.bandwidth()} fill={levelScale(c)} />
            )
          )
        )}
      </g>

      <path d={arrow.toString()} fill="#000" />

      {/* GO legend */}
      <rect x={759} y={1367} width={655} height={281} fill="#fff" stroke="#000" strokeWidth={2} />
      <text x={772} y={1415} fontSize={31.5} fontWeight="bold">GO functions:</text>
      {goLegend.map((g, i) => (
        <g key={g[0]}>
          <rect x={782} y={[1447, 1498, 1548, 1602][i]} width={27} height={24} fill={goColors[g[1]]} />
          <text x={818} y={[1470, 1522, 1571, 1624][i]} fontSize={31.7}>{g[0]}</text>
        </g>
      ))}

      {/* colour scale */}
      <text x={1481} y={1382} fontSize={32} fontWeight="bold">Relative abundance in MPP,</text>
      <text x={1481} y={1420} fontSize={32} fontWeight="bold">normalized:</text>
      {levelKeys.map((k, i) => (
        <rect key={k} x={1554 + i * bandW} y={1470} width={bandW + 0.3} height={23} fill={levelScale(k)} />
      ))}
      <text x={1558} y={1535} fontSize={35} textAnchor="middle">0</text>
      <text x={1846} y={1535} fontSize={35} textAnchor="middle">1</text>
    </svg>
  );
}
